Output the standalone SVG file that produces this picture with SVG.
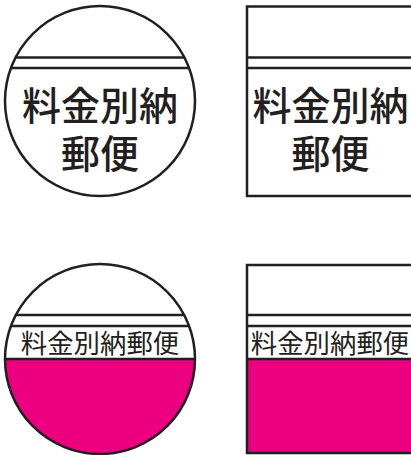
<svg xmlns="http://www.w3.org/2000/svg" width="411" height="455" viewBox="0 0 411 455">
<style>
.o{fill:none;stroke:#231f20;stroke-width:2.500}
.t{font-family:"Noto Sans CJK JP","Noto Sans CJK SC",sans-serif;fill:#231f20;text-anchor:middle;font-weight:500}
.b{font-size:39px}
.s{font-size:26.400px;font-weight:400}
.m{fill:#ec0080}
</style>
<defs>
<clipPath id="c1"><circle cx="100" cy="101" r="95"/></clipPath>
<clipPath id="c2"><circle cx="100" cy="359" r="95"/></clipPath>
</defs>
<g id="seal-round-large">
<circle cx="100" cy="101" r="95" fill="#fff"/>
<g clip-path="url(#c1)"><path class="o" d="M0 57.500H200M0 68H200"/></g>
<circle class="o" cx="100" cy="101" r="95"/>
<text class="t b"><tspan x="100" y="120">料金別納</tspan><tspan x="100" y="168">郵便</tspan></text>
</g>
<g id="seal-square-large">
<path class="o" d="M411 6.500H247V196H411M247 57.500H411M247 68H411"/>
<text class="t b"><tspan x="330.500" y="120">料金別納</tspan><tspan x="330.500" y="168">郵便</tspan></text>
</g>
<g id="seal-round-small">
<circle cx="100" cy="359" r="95" fill="#fff"/>
<g clip-path="url(#c2)"><rect class="m" x="0" y="359" width="200" height="100"/><path class="o" d="M0 315H200M0 326H200M0 359H200"/></g>
<circle class="o" cx="100" cy="359" r="95"/>
<text class="t s" x="100" y="352.500">料金別納郵便</text>
</g>
<g id="seal-square-small">
<rect class="m" x="247" y="359" width="164" height="94"/>
<path class="o" d="M411 265H247V453H411M247 315H411M247 326H411M247 359H411"/>
<text class="t s" x="330" y="352.500">料金別納郵便</text>
</g>
</svg>
